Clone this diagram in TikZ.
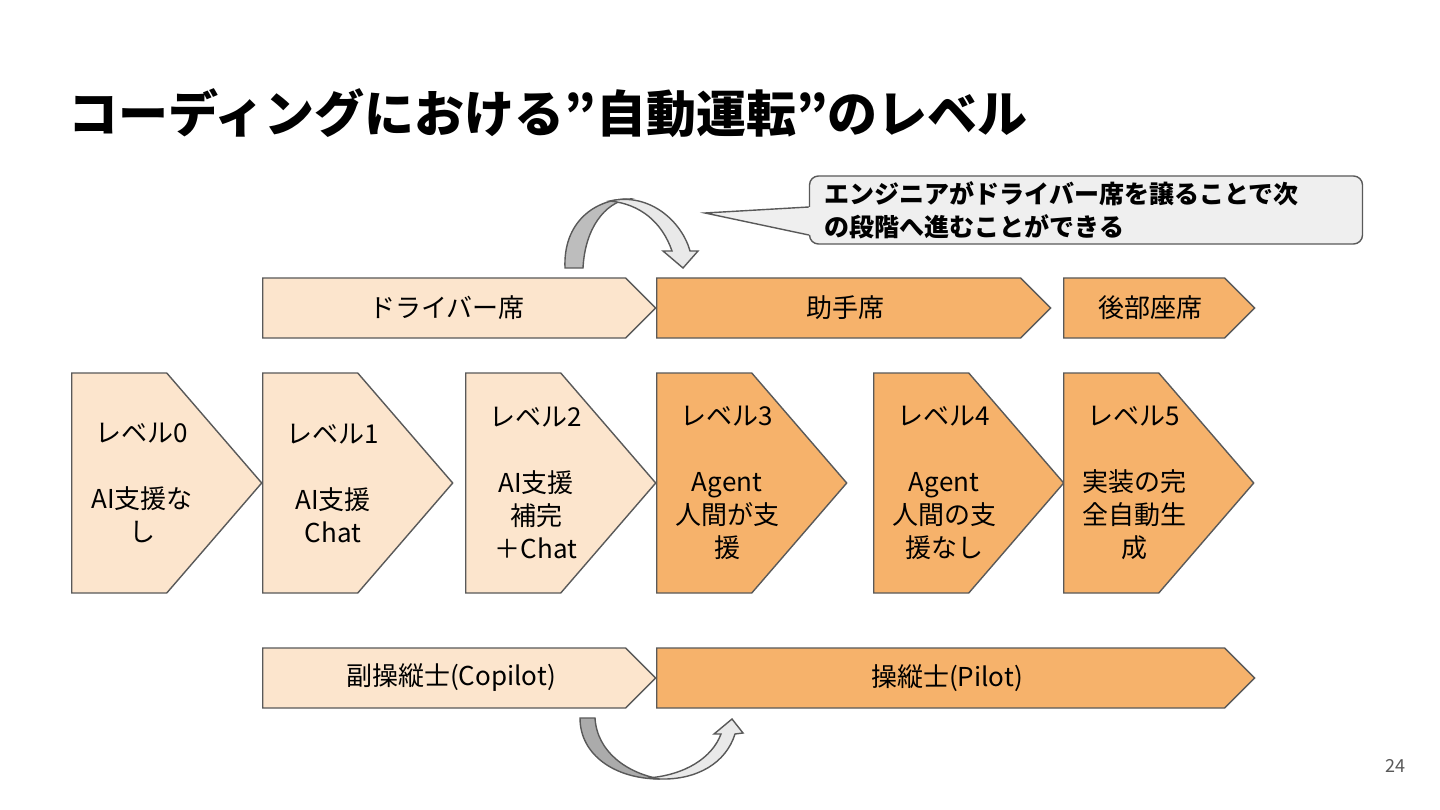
\documentclass[tikz,border=0pt]{standalone}
\usepackage{fontspec}
\setmainfont{Noto Sans CJK JP}
\usepackage{tikz}
\usetikzlibrary{shapes.symbols,calc}
\definecolor{lightpeach}{HTML}{FCE5CD}
\definecolor{midorange}{HTML}{F6B26B}
\definecolor{linegray}{HTML}{595959}
\definecolor{notegray}{HTML}{EFEFEF}
\definecolor{backgray}{HTML}{BDBDBD}
\definecolor{deepgray}{HTML}{ABABAB}
\definecolor{frontgray}{HTML}{E9E9E9}

\begin{document}
\begin{tikzpicture}[
    x=1pt, y=-1pt,
    levelbox/.style={
      signal, signal to=east, signal from=nowhere, signal pointer angle=98.4,
      draw=linegray, line width=1.4pt, fill=#1,
      minimum width=190pt, minimum height=220pt, inner sep=0pt, anchor=west
    },
    seatbar/.style={
      signal, signal to=east, signal from=nowhere, signal pointer angle=90,
      draw=linegray, line width=1.4pt, fill=#1,
      minimum height=60pt, inner sep=0pt, anchor=west
    },
    leveltext/.style={font=\fontsize{26}{33}\selectfont, align=center, inner sep=0pt},
    bartext/.style={font=\fontsize{26}{33}\selectfont, inner sep=0pt},
    note/.style={
      draw=linegray, line width=1.4pt, fill=notegray, rounded corners=9pt,
      minimum width=553pt, minimum height=68pt, inner xsep=15pt,
      text width=523pt, align=left, font=\fontsize{25}{33}\selectfont\bfseries
    },
    arrowpiece/.style={draw=linegray, line width=1.4pt, fill=#1},
  ]
  \fill[white] (0,0) rectangle (1440,810);
  \useasboundingbox (0,0) rectangle (1440,810);

  % ---------- title ----------
  \node[font=\fontsize{50}{54}\selectfont\bfseries, anchor=west, inner sep=0pt]
    (title) at (68,113) {コーディングにおける”自動運転”のレベル};

  % ---------- callout ----------
  \node[note] (note) at (1086,210) {エンジニアがドライバー席を譲ることで次\\の段階へ進むことができる};
  \coordinate (tip) at (705,213);
  \fill[notegray] ([xshift=2pt,yshift=3pt]note.west) -- (tip) -- ([xshift=2pt,yshift=-25pt]note.west) -- cycle;
  \draw[linegray, line width=1.4pt] ([yshift=3pt]note.west) -- (tip) -- ([yshift=-25pt]note.west);

  % ---------- curved arrow (top) ----------
  \draw[arrowpiece=backgray] (565,268) .. controls (563,222) and (595,199) .. (628,199)
    .. controls (605,203) and (585,228) .. (583,268) -- cycle;
  \draw[arrowpiece=frontgray] (610,201) .. controls (650,192) and (682,222) .. (690,251)
    -- (698,251) -- (683,268) -- (663,251) -- (672,251)
    .. controls (662,222) and (640,204) .. (610,201) -- cycle;

  % ---------- seats ----------
  \node[seatbar=lightpeach, minimum width=393pt] (driver) at (262,308) {};
  \node[seatbar=midorange, minimum width=394pt] (assist) at (656,308) {};
  \node[seatbar=midorange, minimum width=191pt] (rear) at (1063,308) {};
  \node[bartext] (drivert) at ([xshift=185pt]driver.west) {ドライバー席};
  \node[bartext] (assistt) at ([xshift=189pt]assist.west) {助手席};
  \node[bartext] (reart) at ([xshift=87pt]rear.west) {後部座席};

  % ---------- levels ----------
  \node[levelbox=lightpeach] (lv0) at (71,483) {};
  \node[levelbox=lightpeach] (lv1) at (262,483) {};
  \node[levelbox=lightpeach] (lv2) at (465,483) {};
  \node[levelbox=midorange] (lv3) at (656,483) {};
  \node[levelbox=midorange] (lv4) at (873,483) {};
  \node[levelbox=midorange] (lv5) at (1063,483) {};

  \node[leveltext] (lv0t) at ([xshift=71pt]lv0.west) {レベル0\\[33pt]AI支援な\\し};
  \node[leveltext] (lv1t) at ([xshift=71pt]lv1.west) {レベル1\\[33pt]AI支援\\Chat};
  \node[leveltext] (lv2t) at ([xshift=71pt]lv2.west) {レベル2\\[33pt]AI支援\\補完\\＋Chat};
  \node[leveltext] (lv3t) at ([xshift=71pt]lv3.west) {レベル3\\[33pt]Agent\\人間が支\\援};
  \node[leveltext] (lv4t) at ([xshift=71pt]lv4.west) {レベル4\\[33pt]Agent\\人間の支\\援なし};
  \node[leveltext] (lv5t) at ([xshift=71pt]lv5.west) {レベル5\\[33pt]実装の完\\全自動生\\成};

  % ---------- pilots ----------
  \node[seatbar=lightpeach, minimum width=393pt] (copilot) at (262,678) {};
  \node[seatbar=midorange, minimum width=598pt] (pilot) at (656,678) {};
  \node[bartext] (copilott) at ([xshift=189pt]copilot.west) {副操縦士(Copilot)};
  \node[bartext] (pilott) at ([xshift=291pt]pilot.west) {操縦士(Pilot)};

  % ---------- curved arrow (bottom) ----------
  \draw[arrowpiece=deepgray] (580,718) .. controls (580,755) and (615,779) .. (660,779)
    .. controls (627,773) and (597,752) .. (595,718) -- cycle;
  \draw[arrowpiece=frontgray] (648,778) .. controls (685,775) and (712,758) .. (721,734)
    -- (714,734) -- (732,719) -- (743,733) -- (735,734)
    .. controls (726,763) and (697,780) .. (660,779) -- cycle;

  % ---------- page number ----------
  \node[font=\fontsize{18}{20}\selectfont, text=linegray] (page) at (1395,766) {24};
\end{tikzpicture}
\end{document}
